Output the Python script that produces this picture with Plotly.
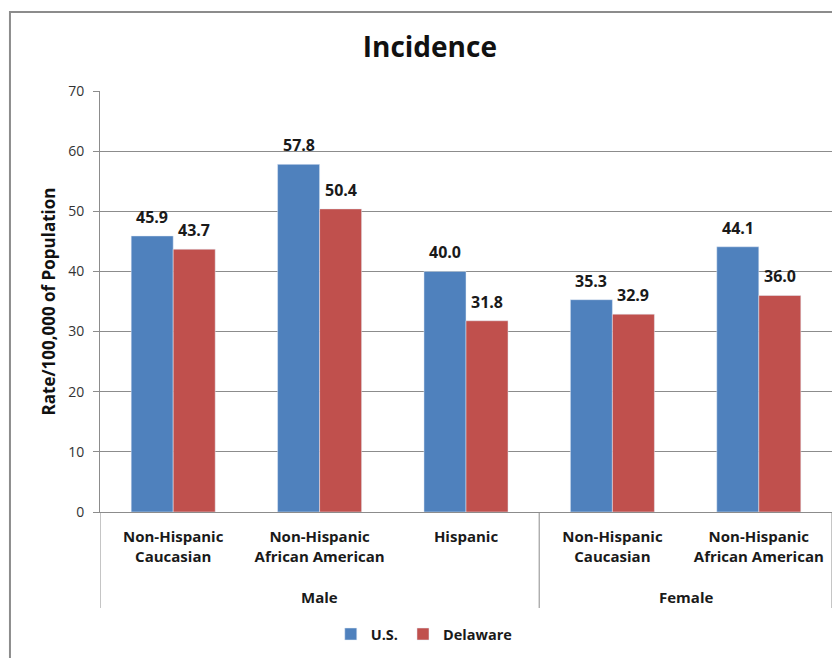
import plotly.graph_objects as go

groups = ["Male", "Male", "Male", "Female", "Female"]
subgroups = ["Non-Hispanic<br>Caucasian", "Non-Hispanic<br>African American", "Hispanic",
             "Non-Hispanic<br>Caucasian", "Non-Hispanic<br>African American"]
us_values = [45.9, 57.8, 40.0, 35.3, 44.1]
delaware_values = [43.7, 50.4, 31.8, 32.9, 36.0]
y_ticks = [0, 10, 20, 30, 40, 50, 60, 70]

FONT = "Open Sans"
GRID = "#8c8c8c"
BARGAP = 0.426
idx = list(range(len(subgroups)))

fig = go.Figure()
fig.add_trace(go.Bar(name="<b>U.S.</b>", x=idx, y=us_values, marker_color="#4F81BD"))
fig.add_trace(go.Bar(name="<b>Delaware</b>", x=idx, y=delaware_values, marker_color="#C0504D"))

# data labels above each bar
half = (1 - BARGAP) / 4
for sign, vals in ((-1, us_values), (1, delaware_values)):
    for i, v in zip(idx, vals):
        fig.add_annotation(x=i + sign * half, y=v, xref="x", yref="y", text=f"<b>{v:.1f}</b>",
                           showarrow=False, yanchor="bottom", yshift=6,
                           font=dict(family=FONT, size=16, color="#1a1a1a"))

# outer group labels and dividers
order = []
for g in groups:
    if g not in order:
        order.append(g)
for g in order:
    pos = [i for i, gg in zip(idx, groups) if gg == g]
    fig.add_annotation(x=sum(pos) / len(pos), y=-0.202, xref="x", yref="paper", text=f"<b>{g}</b>",
                       showarrow=False, yanchor="middle", font=dict(family=FONT, size=15, color="#1a1a1a"))
bounds = [-0.5] + [i + 0.5 for i in range(len(groups) - 1) if groups[i] != groups[i + 1]] + [len(groups) - 0.5]
for b in bounds:
    fig.add_shape(type="line", xref="x", yref="paper", x0=b, x1=b, y0=0, y1=-0.228,
                  line=dict(color=GRID, width=1))

bold_ticks = ["<br>".join(f"<b>{part}</b>" for part in s.split("<br>")) for s in subgroups]

fig.update_layout(
    width=832, height=650,
    margin=dict(l=92, r=8, t=83, b=146),
    paper_bgcolor="white", plot_bgcolor="white",
    barmode="group", bargap=BARGAP, bargroupgap=0,
    title=dict(text="<b>Incidence</b>", x=0.507, xanchor="center", y=0.94, yanchor="middle",
               font=dict(family=FONT, size=28, color="#111")),
    legend=dict(orientation="h", x=0.443, xanchor="center", y=-0.29, yanchor="middle",
                font=dict(family=FONT, size=14.5, color="#1a1a1a"), traceorder="normal"),
    font=dict(family=FONT, size=13, color="#222"),
    showlegend=True,
)
fig.update_yaxes(range=[0, 70], tickvals=y_ticks, showgrid=True, gridcolor=GRID, gridwidth=1,
                 showline=True, linecolor=GRID, ticks="outside", ticklen=6, tickcolor=GRID,
                 ticklabelstandoff=6,
                 tickfont=dict(family=FONT, size=14, color="#333"), zeroline=False,
                 title=dict(text="<b>Rate/100,000 of Population</b>", font=dict(family=FONT, size=17, color="#111"),
                            standoff=8))
fig.update_xaxes(range=[-0.5, len(idx) - 0.5], tickvals=idx, ticktext=bold_ticks,
                 showline=True, linecolor=GRID, showgrid=False, zeroline=False, ticks="",
                 ticklabelstandoff=11,
                 tickfont=dict(family=FONT, size=15, color="#1a1a1a"))
fig.add_shape(type="rect", xref="paper", yref="paper", x0=-0.123, x1=1.1, y0=-0.6, y1=1.1876,
              line=dict(color=GRID, width=2), layer="below")
fig.write_html("out.html")
